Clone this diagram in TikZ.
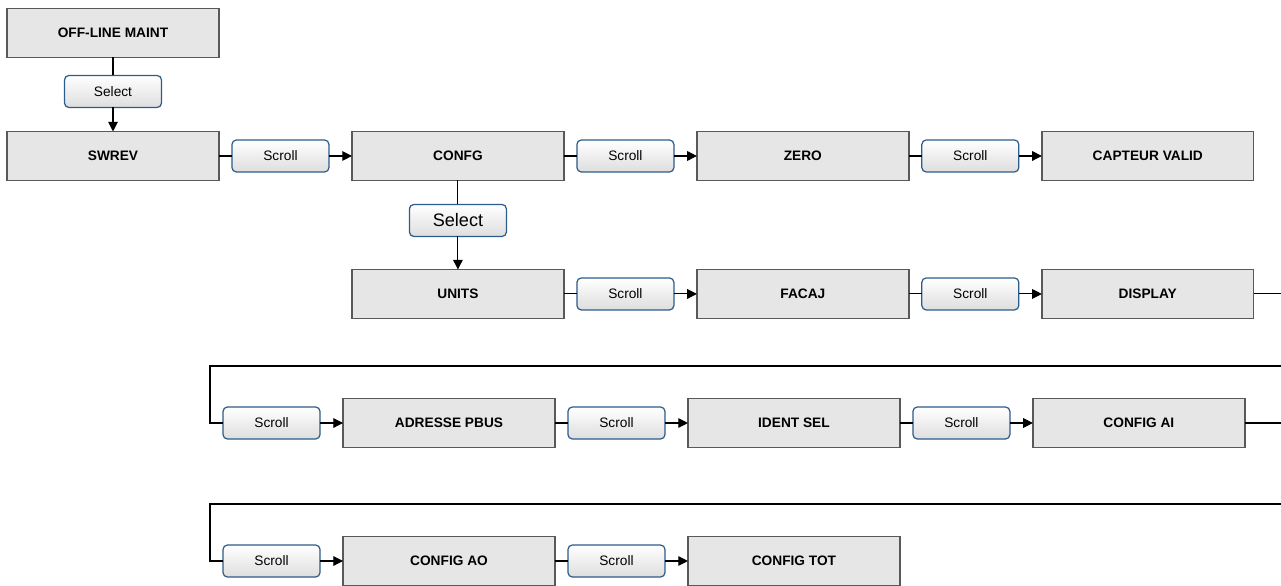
\documentclass[tikz,border=0pt]{standalone}
\usepackage{fontspec}
\setmainfont{Liberation Sans}
\usetikzlibrary{positioning,arrows.meta}

\definecolor{keyrim}{RGB}{44,92,140}
\definecolor{menufill}{RGB}{230,230,230}

\begin{document}
\begin{tikzpicture}[x=0.02cm, y=-0.02cm,
  node distance=0.46cm,
  menu/.style={draw=black!65, line width=0.8pt, fill=menufill,
    minimum width=4.24cm, minimum height=0.98cm, inner sep=0pt, outer sep=0pt,
    font=\fontsize{7.8}{9}\selectfont\bfseries},
  key/.style={draw=keyrim, line width=0.7pt, rounded corners=2.5pt,
    top color=white, bottom color=black!13,
    minimum width=1.94cm, minimum height=0.64cm, inner sep=0pt, outer sep=0pt,
    font=\fontsize{7.8}{9}\selectfont},
  bigkey/.style={key, font=\fontsize{10.3}{12}\selectfont},
  go/.style={line width=0.6pt, -{Triangle[length=5.5pt,width=5.5pt]}},
  link/.style={line width=0.6pt}]
\useasboundingbox (0,0) rectangle (1281,585);

% top level
\node[menu] (offline) at (113,33) {OFF-LINE MAINT};
\node[key, below=0.36cm of offline] (sel1) {Select};
\node[menu, below=0.48cm of sel1] (swrev) {SWREV};

% first row
\node[key, right=0.26cm of swrev] (scr1) {Scroll};
\node[menu, right=of scr1] (confg) {CONFG};
\node[key, right=0.26cm of confg] (scr2) {Scroll};
\node[menu, right=of scr2] (zero) {ZERO};
\node[key, right=0.26cm of zero] (scr3) {Scroll};
\node[menu, right=of scr3] (capteur) {CAPTEUR VALID};

% second row
\node[bigkey, below=0.48cm of confg] (sel2) {Select};
\node[menu, below=0.66cm of sel2] (units) {UNITS};
\node[key, right=0.26cm of units] (scr4) {Scroll};
\node[menu, right=of scr4] (facaj) {FACAJ};
\node[key, right=0.26cm of facaj] (scr5) {Scroll};
\node[menu, right=of scr5] (display) {DISPLAY};

% third row
\node[menu] (adresse) at (449,423) {ADRESSE PBUS};
\node[key, left=of adresse] (scr6) {Scroll};
\node[key, right=0.26cm of adresse] (scr7) {Scroll};
\node[menu, right=of scr7] (ident) {IDENT SEL};
\node[key, right=0.26cm of ident] (scr8) {Scroll};
\node[menu, right=of scr8] (configai) {CONFIG AI};

% fourth row
\node[menu] (configao) at (449,561) {CONFIG AO};
\node[key, left=of configao] (scr9) {Scroll};
\node[key, right=0.26cm of configao] (scr10) {Scroll};
\node[menu, right=of scr10] (configtot) {CONFIG TOT};

% wrap-around points
\coordinate (in3) at (1281,366);
\coordinate (bend3) at (210,366);
\coordinate (in4) at (1281,504);
\coordinate (bend4) at (210,504);
\coordinate (out2) at (display.east -| in3);
\coordinate (out3) at (configai.east -| in3);

\draw[link] (offline) -- (sel1);
\draw[go] (sel1) -- (swrev);
\draw[link] (confg) -- (sel2);
\draw[go] (sel2) -- (units);

\draw[link] (swrev) -- (scr1);
\draw[go] (scr1) -- (confg);
\draw[link] (confg) -- (scr2);
\draw[go] (scr2) -- (zero);
\draw[link] (zero) -- (scr3);
\draw[go] (scr3) -- (capteur);

\draw[link] (units) -- (scr4);
\draw[go] (scr4) -- (facaj);
\draw[link] (facaj) -- (scr5);
\draw[go] (scr5) -- (display);
\draw[link] (display) -- (out2);

\draw[link] (in3) -- (bend3) |- (scr6);
\draw[go] (scr6) -- (adresse);
\draw[link] (adresse) -- (scr7);
\draw[go] (scr7) -- (ident);
\draw[link] (ident) -- (scr8);
\draw[go] (scr8) -- (configai);
\draw[link] (configai) -- (out3);

\draw[link] (in4) -- (bend4) |- (scr9);
\draw[go] (scr9) -- (configao);
\draw[link] (configao) -- (scr10);
\draw[go] (scr10) -- (configtot);
\end{tikzpicture}
\end{document}
